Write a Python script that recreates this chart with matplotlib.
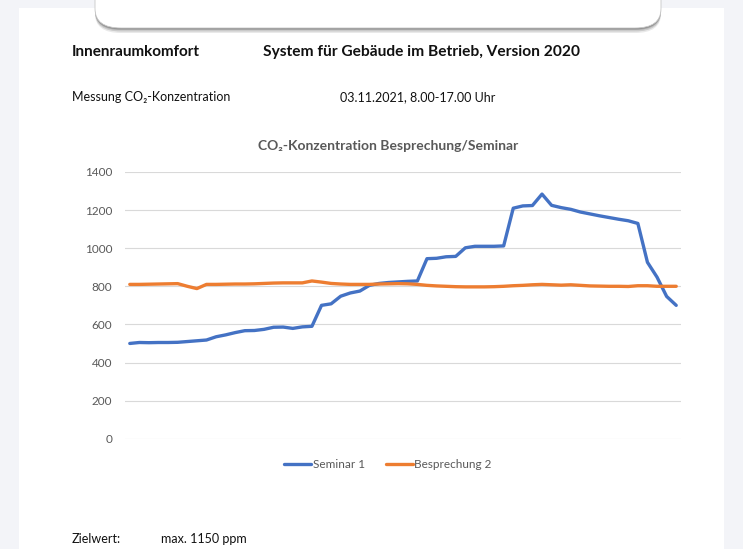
import matplotlib
matplotlib.use('Agg')
import matplotlib.pyplot as plt
from matplotlib.patches import FancyBboxPatch, Rectangle

plt.rcParams['font.family'] = ['Lato', 'DejaVu Sans']

# measurements every 10 min, 8.00-17.30
seminar_1 = [500, 505, 504, 505, 505, 506, 510, 514, 518, 535,
             545, 557, 567, 568, 574, 585, 586, 579, 587, 590,
             700, 708, 748, 765, 775, 805, 815, 820, 823, 826,
             828, 945, 947, 955, 957, 1002, 1010, 1010, 1010, 1012,
             1210, 1222, 1224, 1284, 1225, 1213, 1204, 1190, 1180, 1170,
             1161, 1152, 1144, 1130, 926, 848, 747, 700]
besprechung_2 = [810, 810, 811, 812, 813, 814, 800, 788, 810, 810,
                 811, 812, 812, 813, 815, 817, 818, 818, 818, 828,
                 822, 815, 812, 810, 810, 810, 812, 813, 814, 813,
                 810, 805, 802, 800, 798, 797, 797, 797, 798, 800,
                 803, 805, 808, 810, 808, 806, 808, 805, 802, 801,
                 800, 800, 799, 803, 803, 800, 800, 800]
y_ticks = [0, 200, 400, 600, 800, 1000, 1200, 1400]

W, H = 743, 549
fig = plt.figure(figsize=(W / 100, H / 100), dpi=100)
fig.patch.set_facecolor('#f3f4f8')


def fx(x):
    return x / W


def fy(y):
    return 1 - y / H


# white page
fig.patches.append(Rectangle((fx(19), 0), fx(724) - fx(19), fy(8), transform=fig.transFigure,
                             facecolor='white', edgecolor='none', zorder=0))
# rounded box at the top with a shadow
for off, a in [(5, 0.15), (3.5, 0.25), (2, 0.4), (1, 0.5)]:
    fig.patches.append(FancyBboxPatch((fx(95), fy(28 + off)), fx(661) - fx(95), 0.2,
                                      boxstyle='round,pad=0,rounding_size=0.035',
                                      transform=fig.transFigure, facecolor='#6e6e6e',
                                      edgecolor='none', alpha=a, zorder=1))
fig.patches.append(FancyBboxPatch((fx(95), fy(28)), fx(661) - fx(95), 0.2,
                                  boxstyle='round,pad=0,rounding_size=0.035',
                                  transform=fig.transFigure, facecolor='white',
                                  edgecolor='#c8c8c8', lw=0.6, zorder=2))

# header texts
fig.text(fx(72), fy(52), 'Innenraumkomfort', fontsize=11, fontweight='bold', va='center', color='#111111')
fig.text(fx(263), fy(52), 'System für Gebäude im Betrieb, Version 2020', fontsize=11.2,
         fontweight='bold', va='center', color='#111111')
fig.text(fx(72), fy(97), 'Messung CO₂-Konzentration', fontsize=9, va='center', color='#111111')
fig.text(fx(340), fy(97), '03.11.2021, 8.00-17.00 Uhr', fontsize=9, va='center', color='#111111')
fig.text(fx(72), fy(539), 'Zielwert:', fontsize=9, va='center', color='#111111')
fig.text(fx(161), fy(539), 'max. 1150 ppm', fontsize=9, va='center', color='#111111')

# chart
ax = fig.add_axes([fx(125), fy(438.7), fx(681) - fx(125), fy(172) - fy(438.7)])
ax.set_zorder(5)
ax.set_facecolor('none')
t = range(len(seminar_1))
ax.plot(t, seminar_1, color='#4472C4', lw=2.4, label='Seminar 1', solid_capstyle='round')
ax.plot(t, besprechung_2, color='#ED7D31', lw=2.4, label='Besprechung 2', solid_capstyle='round')
ax.set_xlim(-0.5, len(seminar_1) - 0.5)
ax.set_ylim(0, 1400)
ax.set_yticks(y_ticks)
ax.set_xticks([])
ax.grid(axis='y', color='#d9d9d9', lw=0.8)
ax.set_axisbelow(True)
for s in ax.spines.values():
    s.set_visible(False)
ax.tick_params(axis='y', length=0, pad=9, labelsize=8.5, labelcolor='#595959')

fig.text(fx(388), fy(146), 'CO₂-Konzentration Besprechung/Seminar', fontsize=10,
         fontweight='bold', ha='center', va='center', color='#595959')

leg = fig.legend(*ax.get_legend_handles_labels(), loc='center', bbox_to_anchor=(fx(388), fy(465)),
                 ncol=2, frameon=False, fontsize=8.5, handlelength=2.3, handletextpad=0.1,
                 columnspacing=1.8, labelcolor='#595959')
leg.set_zorder(6)

fig.savefig('out.png', dpi=100, facecolor=fig.get_facecolor())
